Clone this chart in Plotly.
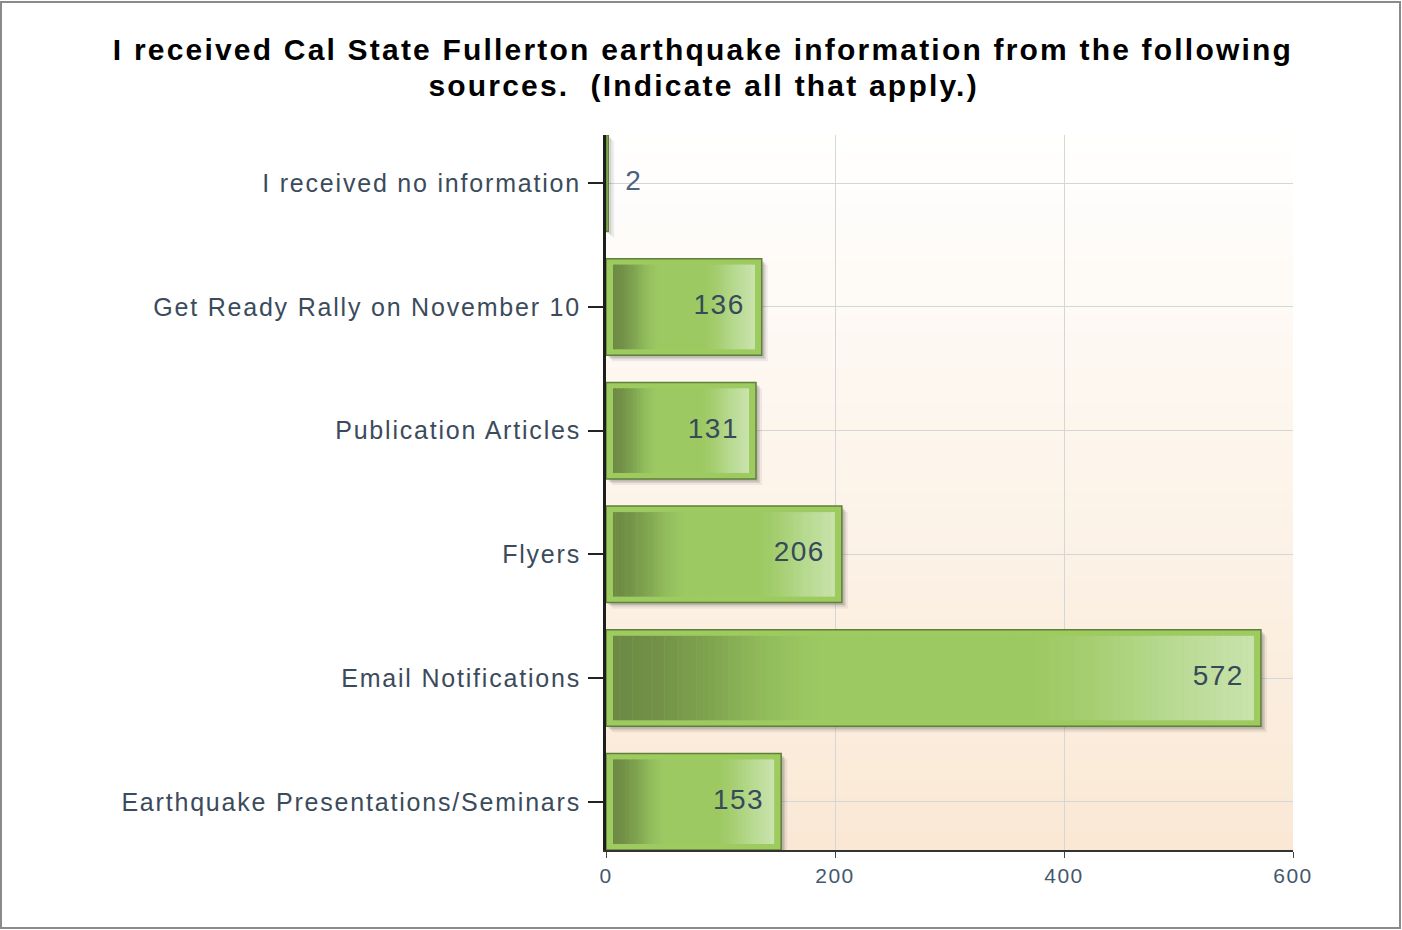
import plotly.graph_objects as go

# ---------------- data ----------------
categories = [
    "Earthquake Presentations/Seminars",
    "Email Notifications",
    "Flyers",
    "Publication Articles",
    "Get Ready Rally on November 10",
    "I received no information",
]
values = [153, 572, 206, 131, 136, 2]
x_ticks = [0, 200, 400, 600]
title_lines = [
    "I received Cal State Fullerton earthquake information from the following",
    "sources.  (Indicate all that apply.)",
]

# ---------------- layout constants (pixels) ----------------
W, H = 1402, 930
L, R, T, B = 606, 109, 135, 80
PW, PH = W - L - R, H - T - B
X_MAX = 600
Y_RANGE = [-0.39, 5.39]
PX_X = PW / X_MAX                       # px per x unit
PX_Y = PH / (Y_RANGE[1] - Y_RANGE[0])   # px per category unit

FONT = "Liberation Sans, Arial, sans-serif"
BAR_W = 0.78
INSET_X = 7 / PX_X
INSET_Y = 6 / PX_Y
INNER_W = BAR_W - 2 * INSET_Y


def hex2rgb(h):
    h = h.lstrip("#")
    return tuple(int(h[i:i + 2], 16) for i in (0, 2, 4))


stops = [
    (0.00, "#6c8a43"), (0.06, "#718f47"), (0.15, "#7fa44f"), (0.24, "#92bd5c"),
    (0.32, "#9dc963"), (0.66, "#9dc963"), (0.74, "#a5ce70"), (0.86, "#b6d98f"),
    (1.00, "#cae3ad"),
]


def grad_color(f):
    for (f0, c0), (f1, c1) in zip(stops[:-1], stops[1:]):
        if f0 <= f <= f1:
            t = (f - f0) / (f1 - f0) if f1 > f0 else 0
            a, b = hex2rgb(c0), hex2rgb(c1)
            return "rgb(%d,%d,%d)" % tuple(round(a[k] + (b[k] - a[k]) * t) for k in range(3))
    return stops[-1][1]


fig = go.Figure()

# shadow
for dpx, alpha in [(6, 0.08), (4, 0.12), (2.5, 0.16)]:
    fig.add_trace(go.Bar(
        y=categories, x=values, base=[dpx / PX_X] * len(values), orientation="h",
        width=BAR_W, offset=-BAR_W / 2 - dpx / PX_Y,
        marker=dict(color="rgba(60,60,60,%.2f)" % alpha, line=dict(width=0)),
        hoverinfo="skip", showlegend=False,
    ))

# outer bar
fig.add_trace(go.Bar(
    y=categories, x=values, orientation="h", width=BAR_W,
    marker=dict(color="#9dcb60", line=dict(color="#5f7f3b", width=1.5)),
    hovertemplate="%{y}: %{x}<extra></extra>", showlegend=False,
))

# inner gradient
N = 100
inner_len = [max(v - 2 * INSET_X, 0) for v in values]
for i in range(N):
    f0, f1 = i / N, (i + 1) / N
    seg = [il * (f1 - f0) + (0.3 if il > 0 and i < N - 1 else 0) for il in inner_len]
    base = [INSET_X + il * f0 for il in inner_len]
    fig.add_trace(go.Bar(
        y=categories, x=seg, base=base, orientation="h", width=INNER_W,
        marker=dict(color=grad_color((f0 + f1) / 2), line=dict(width=0)),
        hoverinfo="skip", showlegend=False,
    ))

# value labels
PAD = 17 / PX_X
txt_x = [v - PAD if v > 40 else v + PAD for v in values]
txt_pos = ["middle left" if v > 40 else "middle right" for v in values]
txt_col = ["#364a5a" if v > 40 else "#4a6480" for v in values]
fig.add_trace(go.Scatter(
    y=categories, x=txt_x, mode="text", text=[str(v) for v in values],
    textposition=txt_pos, textfont=dict(family=FONT, size=28, color=txt_col),
    hoverinfo="skip", showlegend=False,
))

# background gradient in plot area
NB = 40
top_c, bot_c = hex2rgb("#ffffff"), hex2rgb("#fae8d4")
shapes = []
for i in range(NB):
    t = (i + 0.5) / NB
    c = tuple(round(top_c[k] + (bot_c[k] - top_c[k]) * t) for k in range(3))
    shapes.append(dict(
        type="rect", xref="paper", yref="paper", x0=0, x1=1,
        y0=1 - (i + 1) / NB - 0.002, y1=1 - i / NB,
        fillcolor="rgb(%d,%d,%d)" % c, line=dict(width=0), layer="below",
    ))

# outer border of the picture
shapes.append(dict(
    type="rect", xref="paper", yref="paper",
    x0=(1 - L) / PW, x1=(W - 2 - L) / PW,
    y0=(PH + T - (H - 2)) / PH, y1=(PH + T - 2) / PH,
    line=dict(color="#8a8a8a", width=2), fillcolor="rgba(0,0,0,0)", layer="above",
))

annotations = []
for line, ypx in zip(title_lines, [50, 86]):
    annotations.append(dict(
        text="<b>%s</b>" % line, xref="paper", yref="paper",
        x=(703 - L) / PW, y=(PH + T - ypx) / PH, xanchor="center", yanchor="middle",
        showarrow=False, font=dict(family=FONT, size=30, color="#000000"),
    ))

fig.update_layout(
    width=W, height=H,
    margin=dict(l=L, r=R, t=T, b=B, pad=0),
    paper_bgcolor="#ffffff", plot_bgcolor="rgba(0,0,0,0)",
    barmode="overlay", bargap=0.22,
    shapes=shapes, annotations=annotations,
    showlegend=False,
    font=dict(family=FONT),
    xaxis=dict(
        range=[0, X_MAX], tickvals=x_ticks, ticktext=[str(t) for t in x_ticks],
        showgrid=True, gridcolor="#d6d6d6", gridwidth=1, zeroline=False,
        showline=True, linecolor="#333333", linewidth=2,
        ticks="outside", ticklen=6, tickcolor="#444444", tickwidth=1,
        tickfont=dict(family=FONT, size=21, color="#44586c"), fixedrange=True,
    ),
    yaxis=dict(
        type="category", categoryorder="array", categoryarray=categories,
        range=Y_RANGE, showgrid=True, gridcolor="#d6d6d6", gridwidth=1,
        zeroline=False, showline=True, linecolor="#1e1e1e", linewidth=3,
        ticks="outside", ticklen=15, tickcolor="#222222", tickwidth=1.5,
        tickfont=dict(family=FONT, size=25, color="#3b4b5b"), fixedrange=True,
        ticklabelstandoff=2,
    ),
)

post = """
document.body.style.margin='0';
document.body.style.overflow='hidden';
var gd=document.getElementById('{plot_id}');
function sp(sel, v){ gd.querySelectorAll(sel).forEach(function(t){ t.style.letterSpacing=v; }); }
sp('.ytick text','1.8px'); sp('.xtick text','1.5px'); sp('.annotation-text','2.2px'); sp('.textpoint text','1.5px');
"""

fig.write_html("out.html", post_script=post, config={"displayModeBar": False})
